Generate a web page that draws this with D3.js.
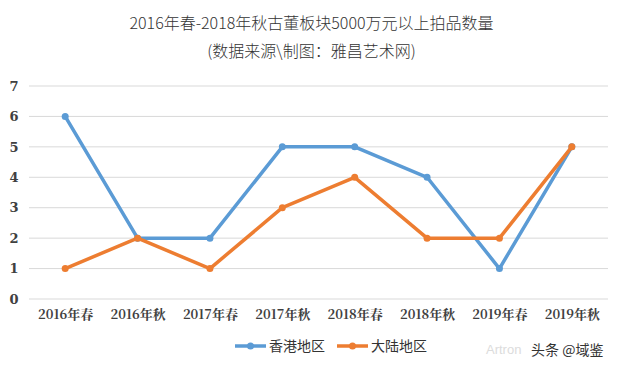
<!DOCTYPE html>
<html>
<head>
<meta charset="utf-8">
<script src="https://cdn.jsdelivr.net/npm/d3@7"></script>
<style>
  body { margin: 0; background: #fff; }
  svg { display: block; }
</style>
</head>
<body>
<svg id="chart" width="623" height="371"></svg>
<script>
// chart data
const categories = ["2016年春", "2016年秋", "2017年春", "2017年秋", "2018年春", "2018年秋", "2019年春", "2019年秋"];
const hongKong = [6, 2, 2, 5, 5, 4, 1, 5];
const mainland = [1, 2, 1, 3, 4, 2, 2, 5];
const yTicks = [0, 1, 2, 3, 4, 5, 6, 7];
const seriesNames = ["香港地区", "大陆地区"];
const seriesColors = ["#5b9bd5", "#ed7d31"];

const svg = d3.select("#chart");
const W = 623, H = 371;
const margin = { top: 86, right: 15, bottom: 72, left: 29 };

const x = d3.scalePoint()
    .domain(categories)
    .range([margin.left, W - margin.right])
    .padding(0.5);

const y = d3.scaleLinear()
    .domain([0, 7])
    .range([H - margin.bottom, margin.top]);

// titles
svg.append("text")
    .attr("x", W / 2).attr("y", 29)
    .attr("text-anchor", "middle")
    .attr("font-family", "'Noto Sans CJK SC', sans-serif")
    .attr("font-weight", 300)
    .attr("font-size", 16)
    .attr("fill", "#333")
    .text("2016年春-2018年秋古董板块5000万元以上拍品数量");

svg.append("text")
    .attr("x", W / 2).attr("y", 57)
    .attr("text-anchor", "middle")
    .attr("font-family", "'Noto Sans CJK SC', sans-serif")
    .attr("font-weight", 300)
    .attr("font-size", 16)
    .attr("fill", "#333")
    .text("(数据来源\\制图：雅昌艺术网)");

// gridlines
svg.append("g")
    .selectAll("line")
    .data(yTicks)
    .join("line")
    .attr("x1", margin.left).attr("x2", W - margin.right)
    .attr("y1", d => y(d)).attr("y2", d => y(d))
    .attr("stroke", "#d9d9d9")
    .attr("stroke-width", 1);

// y axis labels
const yAxis = d3.axisLeft(y).tickValues(yTicks).tickFormat(d3.format("d")).tickSize(0).tickPadding(0);
svg.append("g")
    .attr("transform", `translate(${14},0)`)
    .call(yAxis)
    .call(g => g.select(".domain").remove())
    .call(g => g.selectAll("text")
        .attr("text-anchor", "middle")
        .attr("font-family", "'DejaVu Serif', serif")
        .attr("font-weight", "bold")
        .attr("font-size", 13)
        .attr("fill", "#404040"));

// x axis labels
const xAxis = d3.axisBottom(x).tickSize(0).tickPadding(0);
svg.append("g")
    .attr("transform", `translate(0,${y(0) + 11})`)
    .call(xAxis)
    .call(g => g.select(".domain").remove())
    .call(g => g.selectAll("text")
        .attr("font-family", "'Noto Serif CJK SC', 'Noto Sans CJK SC', serif")
        .attr("font-weight", "bold")
        .attr("font-size", 13)
        .attr("fill", "#404040"));

// series lines + markers
const line = d3.line()
    .x((d, i) => x(categories[i]))
    .y(d => y(d));

[hongKong, mainland].forEach((vals, si) => {
    svg.append("path")
        .datum(vals)
        .attr("d", line)
        .attr("fill", "none")
        .attr("stroke", seriesColors[si])
        .attr("stroke-width", 3.5)
        .attr("stroke-linejoin", "round")
        .attr("stroke-linecap", "round");

    svg.append("g")
        .selectAll("circle")
        .data(vals)
        .join("circle")
        .attr("cx", (d, i) => x(categories[i]))
        .attr("cy", d => y(d))
        .attr("r", 3.5)
        .attr("fill", seriesColors[si]);
});

// legend
const legendX = [235, 337];
seriesNames.forEach((name, i) => {
    const lg = svg.append("g").attr("transform", `translate(${legendX[i]},346)`);
    lg.append("line")
        .attr("x1", 0).attr("x2", 31)
        .attr("stroke", seriesColors[i])
        .attr("stroke-width", 3.5);
    lg.append("circle")
        .attr("cx", 15.5).attr("r", 3.5)
        .attr("fill", seriesColors[i]);
    lg.append("text")
        .attr("x", 34).attr("y", 5)
        .attr("font-family", "'Noto Sans CJK SC', sans-serif")
        .attr("font-size", 14)
        .attr("fill", "#333")
        .text(name);
});

// watermark
svg.append("text")
    .attr("x", 486).attr("y", 354)
    .attr("font-family", "Arial, 'Liberation Sans', sans-serif")
    .attr("font-size", 13)
    .attr("fill", "#dcdcdc")
    .text("Artron");

svg.append("text")
    .attr("x", 531).attr("y", 355)
    .attr("font-family", "'Noto Sans CJK SC', sans-serif")
    .attr("font-size", 14)
    .attr("fill", "#333")
    .text("头条 @域鉴");
</script>
</body>
</html>
